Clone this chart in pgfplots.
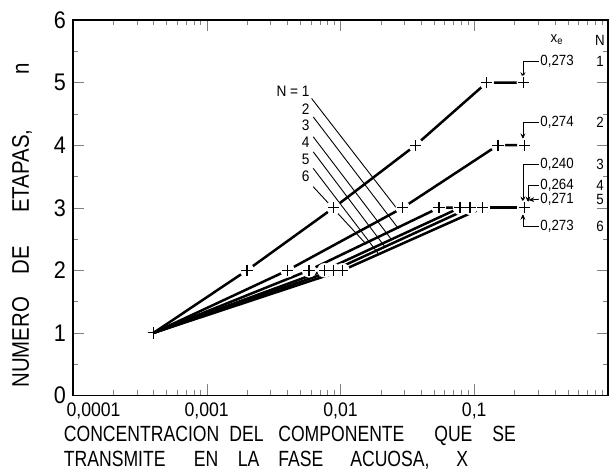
\documentclass[border=0pt]{standalone}
\usepackage{fontspec}
\setmainfont{Liberation Sans}[FakeStretch=0.9]
\newfontfamily\lettering{Liberation Sans}[FakeStretch=0.8]
\newfontfamily\letteringy{Liberation Sans}[FakeStretch=0.85]
\usepackage{pgfplots}
\usepackage{pgfplotstable}
\pgfplotsset{compat=1.18}
\usetikzlibrary{arrows.meta}

\pgfplotstableread{
x y
0.0004 1
0.0020 2
0.0089 3
0.0365 4
0.124 5
0.235 5
}\Nuno
\pgfplotstableread{
x y
0.0004 1
0.00402 2
0.0292 3
0.1505 4
0.237 4
}\Ndos
\pgfplotstableread{
x y
0.0004 1
0.00582 2
0.0545 3
0.237 3
}\Ntres
\pgfplotstableread{
x y
0.0004 1
0.00759 2
0.0782 3
0.237 3
}\Ncuatro
\pgfplotstableread{
x y
0.0004 1
0.00887 2
0.0929 3
0.237 3
}\Ncinco
\pgfplotstableread{
x y
0.0004 1
0.01035 2
0.116 3
0.237 3
}\Nseis

\begin{document}
\begin{tikzpicture}
\begin{axis}[scale only axis, width=267.5pt, height=187.75pt,
  xmode=log, xmin=1e-4, xmax=1, ymin=0, ymax=6,
  tick align=inside, clip=false,
  axis line style={line width=0.6pt},
  /pgf/number format/assume math mode=true,
  xtick={1e-4,1e-3,1e-2,1e-1,1},
  xticklabels={{\rlap{\hspace{-3.2pt}0,0001}},{0,001},{0,01},{0,1},{}},
  minor xtick={2e-4,3e-4,4e-4,5e-4,6e-4,7e-4,8e-4,9e-4,
               2e-3,3e-3,4e-3,5e-3,6e-3,7e-3,8e-3,9e-3,
               2e-2,3e-2,4e-2,5e-2,6e-2,7e-2,8e-2,9e-2,
               0.2,0.3,0.4,0.5,0.6,0.7,0.8,0.9},
  ytick={0,1,2,3,4,5,6},
  minor ytick={0.5,1.5,2.5,3.5,4.5,5.5},
  major tick length=5.5pt, minor tick length=2.5pt,
  xticklabel style={font=\fontsize{9.8}{11}\selectfont},
  yticklabel style={font=\fontsize{12}{14}\selectfont},
  ylabel={\makebox[56.5pt][l]{NUMERO}\makebox[31pt][l]{DE}\makebox[69pt][l]{ETAPAS,}n},
  ylabel style={at={(axis description cs:-0.0953,0.0200)}, anchor=west, inner sep=0pt, font=\letteringy\fontsize{12}{13}\selectfont},
  xlabel={\makebox[82.75pt][l]{CONCENTRACION}\makebox[24.5pt][l]{DEL}\makebox[78pt][l]{COMPONENTE}\makebox[29pt][l]{QUE}SE\\
          \makebox[65pt][l]{TRANSMITE}\makebox[22pt][l]{EN}\makebox[20.25pt][l]{LA}\makebox[36pt][l]{FASE}\makebox[53pt][l]{ACUOSA,}X},
  xlabel style={at={(axis description cs:-0.0178,-0.080)}, anchor=north west, align=left, inner sep=0pt, font=\lettering\fontsize{11}{12.5}\selectfont},
]
\coordinate (sw) at (rel axis cs:0,0);
\coordinate (ne) at (rel axis cs:1,1);

\addplot[black, line width=1.25pt, no markers] table {\Nuno};
\addplot[black, line width=1.25pt, no markers] table {\Ndos};
\addplot[black, line width=1.25pt, no markers] table {\Ntres};
\addplot[black, line width=1.25pt, no markers] table {\Ncuatro};
\addplot[black, line width=1.25pt, no markers] table {\Ncinco};
\addplot[black, line width=1.25pt, no markers] table {\Nseis};

% leader lines from the N labels
\draw[line width=0.45pt] (axis description cs:0.446,0.791) -- (axis description cs:0.605,0.4985);
\draw[line width=0.45pt] (axis description cs:0.449,0.742) -- (axis description cs:0.608,0.445);
\draw[line width=0.45pt] (axis description cs:0.449,0.689) -- (axis description cs:0.596,0.414);
\draw[line width=0.45pt] (axis description cs:0.449,0.649) -- (axis description cs:0.583,0.396);
\draw[line width=0.45pt] (axis description cs:0.449,0.605) -- (axis description cs:0.571,0.377);
\draw[line width=0.45pt] (axis description cs:0.449,0.556) -- (axis description cs:0.548,0.403);

\addplot[white, only marks, mark=*, mark size=3.4pt, mark options={white, fill=white, draw=white}, skip coords between index={0}{1}] table {\Nuno};
\addplot[white, only marks, mark=*, mark size=3.4pt, mark options={white, fill=white, draw=white}, skip coords between index={0}{1}] table {\Ndos};
\addplot[white, only marks, mark=*, mark size=3.4pt, mark options={white, fill=white, draw=white}, skip coords between index={0}{1}] table {\Ntres};
\addplot[white, only marks, mark=*, mark size=3.4pt, mark options={white, fill=white, draw=white}, skip coords between index={0}{1}] table {\Ncuatro};
\addplot[white, only marks, mark=*, mark size=3.4pt, mark options={white, fill=white, draw=white}, skip coords between index={0}{1}] table {\Ncinco};
\addplot[white, only marks, mark=*, mark size=3.4pt, mark options={white, fill=white, draw=white}, skip coords between index={0}{1}] table {\Nseis};

\addplot[black, only marks, mark=+, mark size=2.8pt, mark options={black, line width=0.55pt}] table {\Nuno};
\addplot[black, only marks, mark=+, mark size=2.8pt, mark options={black, line width=0.55pt}] table {\Ndos};
\addplot[black, only marks, mark=+, mark size=2.8pt, mark options={black, line width=0.55pt}] table {\Ntres};
\addplot[black, only marks, mark=+, mark size=2.8pt, mark options={black, line width=0.55pt}] table {\Ncuatro};
\addplot[black, only marks, mark=+, mark size=2.8pt, mark options={black, line width=0.55pt}] table {\Ncinco};
\addplot[black, only marks, mark=+, mark size=2.8pt, mark options={black, line width=0.55pt}] table {\Nseis};

% N labels
\node[anchor=east, inner sep=0pt, font=\fontsize{7.6}{9}\selectfont] at (axis description cs:0.443,0.811) {N = 1};
\node[anchor=east, inner sep=0pt, font=\fontsize{7.6}{9}\selectfont] at (axis description cs:0.443,0.763) {2};
\node[anchor=east, inner sep=0pt, font=\fontsize{7.6}{9}\selectfont] at (axis description cs:0.443,0.720) {3};
\node[anchor=east, inner sep=0pt, font=\fontsize{7.6}{9}\selectfont] at (axis description cs:0.443,0.674) {4};
\node[anchor=east, inner sep=0pt, font=\fontsize{7.6}{9}\selectfont] at (axis description cs:0.443,0.630) {5};
\node[anchor=east, inner sep=0pt, font=\fontsize{7.6}{9}\selectfont] at (axis description cs:0.443,0.585) {6};

% right-hand annotations
\node[font=\fontsize{7.4}{8}\selectfont] at (axis description cs:0.905,0.947) {x\textsubscript{e}};
\node[font=\fontsize{7.4}{8}\selectfont] at (axis description cs:0.985,0.945) {N};
\node[anchor=west, inner sep=0pt, font=\fontsize{7.4}{8}\selectfont] at (axis description cs:0.873,0.889) {0,273};
\node[anchor=west, inner sep=0pt, font=\fontsize{7.4}{8}\selectfont] at (axis description cs:0.873,0.7265) {0,274};
\node[anchor=west, inner sep=0pt, font=\fontsize{7.4}{8}\selectfont] at (axis description cs:0.873,0.6165) {0,240};
\node[anchor=west, inner sep=0pt, font=\fontsize{7.4}{8}\selectfont] at (axis description cs:0.873,0.5606) {0,264};
\node[anchor=west, inner sep=0pt, font=\fontsize{7.4}{8}\selectfont] at (axis description cs:0.873,0.5225) {0,271};
\node[anchor=west, inner sep=0pt, font=\fontsize{7.4}{8}\selectfont] at (axis description cs:0.873,0.4495) {0,273};
\node[font=\fontsize{7.4}{8}\selectfont] at (axis description cs:0.985,0.889) {1};
\node[font=\fontsize{7.4}{8}\selectfont] at (axis description cs:0.985,0.7265) {2};
\node[font=\fontsize{7.4}{8}\selectfont] at (axis description cs:0.985,0.6165) {3};
\node[font=\fontsize{7.4}{8}\selectfont] at (axis description cs:0.985,0.5606) {4};
\node[font=\fontsize{7.4}{8}\selectfont] at (axis description cs:0.985,0.5225) {5};
\node[font=\fontsize{7.4}{8}\selectfont] at (axis description cs:0.985,0.4495) {6};

\draw[line width=0.4pt, -{Stealth[length=3pt,width=2.4pt]}] (axis description cs:0.871,0.889) -| (axis description cs:0.841,0.845);
\draw[line width=0.4pt, -{Stealth[length=3pt,width=2.4pt]}] (axis description cs:0.871,0.7265) -| (axis description cs:0.841,0.682);
\draw[line width=0.4pt, -{Stealth[length=3pt,width=2.4pt]}] (axis description cs:0.871,0.6165) -| (axis description cs:0.841,0.514);
\draw[line width=0.4pt, -{Stealth[length=3pt,width=2.4pt]}] (axis description cs:0.871,0.5606) -| (axis description cs:0.8505,0.514);
\draw[line width=0.4pt, -{Stealth[length=3pt,width=2.4pt]}] (axis description cs:0.871,0.5225) -- (axis description cs:0.851,0.5206);
\draw[line width=0.4pt, -{Stealth[length=3pt,width=2.4pt]}] (axis description cs:0.871,0.4495) -| (axis description cs:0.841,0.484);
\end{axis}

\pgfresetboundingbox
\path[use as bounding box] ([shift={(-36.5pt,-38.25pt)}]sw) rectangle ([shift={(1pt,10pt)}]ne);
\end{tikzpicture}
\end{document}
